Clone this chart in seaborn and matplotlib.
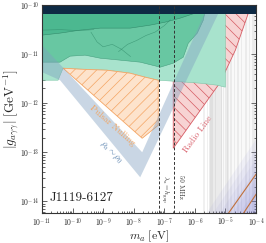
import numpy as np
import matplotlib
matplotlib.use("Agg")
import matplotlib.pyplot as plt
import seaborn as sns

# all values are log10(m_a / eV) and log10(g / GeV^-1)
green_light_m = [-11.0, -10.475, -10.311, -9.754, -8.869, -8.115, -7.623, -7.197, -6.705, -5.820,
                 -5.262, -5.0, -5.0, -11.0]
green_light_g = [-11.531, -11.531, -11.286, -11.306, -11.327, -11.388, -11.469, -11.531, -11.551, -11.592,
                 -11.633, -11.673, -10.0, -10.0]

green_mid_m = [-11.0, -10.410, -10.082, -9.590, -9.098, -8.443, -7.787, -7.131, -6.705, -6.377,
               -6.213, -5.918, -5.721, -5.623, -11.0]
green_mid_g = [-11.163, -11.163, -11.041, -11.020, -11.082, -11.122, -11.163, -11.265, -11.184, -11.061,
               -10.776, -10.571, -10.306, -10.0, -10.0]

green_dark_m = [-11.0, -10.410, -9.754, -9.098, -8.115, -7.459, -6.967, -6.475, -5.984, -5.9, -11.0]
green_dark_g = [-10.612, -10.571, -10.510, -10.469, -10.469, -10.408, -10.347, -10.265, -10.163, -10.0, -10.0]

# a few inner contour lines of the existing bounds
contour1_m = [-11.0, -10.4, -9.8, -9.3]
contour1_g = [-10.51, -10.50, -10.52, -10.50]
contour2_m = [-9.4, -9.2, -9.0, -8.7, -8.4, -8.1]
contour2_g = [-10.55, -10.75, -10.85, -10.80, -10.90, -11.05]
contour3_m = [-8.5, -8.2, -7.9, -7.6, -7.3, -7.0, -6.8]
contour3_g = [-10.95, -10.80, -10.72, -10.62, -10.55, -10.42, -10.30]

orange_m = [-10.311, -9.754, -8.869, -8.115, -7.623, -7.197, -7.197, -7.721]
orange_g = [-11.286, -11.306, -11.327, -11.388, -11.469, -11.531, -12.449, -12.714]

red_m = [-6.705, -4.148, -4.246, -4.672, -5.164, -6.705]
red_g = [-10.0, -10.0, -10.163, -10.918, -11.571, -12.918]

rho_m = [-11.0, -10.410, -7.787, -5.098, -5.557, -7.721, -11.0]
rho_g = [-11.367, -11.531, -13.510, -10.0, -10.0, -13.0, -10.816]

cast_g = -10.18

gap_line_m = -7.17
mhz50_line_m = -6.684

gray_lo = [-5.72, -5.60, -5.55, -5.50, -5.42, -5.38, -5.33, -5.22, -5.15, -5.08, -5.02, -4.96, -4.84,
           -4.76, -4.72, -4.62, -4.48, -4.40, -4.35, -4.22, -4.12, -4.05]
gray_hi = [-5.66, -5.57, -5.42, -5.40, -5.36, -5.30, -5.20, -5.12, -5.10, -5.04, -4.88, -4.92, -4.78,
           -4.74, -4.68, -4.55, -4.44, -4.38, -4.30, -4.18, -4.06, -4.02]
gray_base = [-5.55, -4.0]

# purple haze edges: g at m=-6.0 and m=-3.9
purple_left_g = [-14.6, -14.8, -15.0, -15.2, -15.4, -15.6]
purple_right_g = [-12.65, -12.85, -13.05, -13.25, -13.45, -13.65]

brown1_m = [-4.902, -3.951]
brown1_g = [-14.245, -13.408]
brown2_m = [-4.410, -3.951]
brown2_g = [-14.245, -13.816]

x_decades = [-11, -10, -9, -8, -7, -6, -5, -4]
y_decades = [-14, -13, -12, -11, -10]

sns.set_theme(style="ticks")
plt.rcParams["mathtext.fontset"] = "cm"
plt.rcParams["font.family"] = ["cmr10", "DejaVu Serif"]
plt.rcParams["axes.formatter.use_mathtext"] = True
plt.rcParams["hatch.linewidth"] = 0.5

fig = plt.figure(figsize=(2.66, 2.43), dpi=100)
ax = fig.add_axes([0.158, 0.123, 0.804, 0.856])
ax.set_xscale("log")
ax.set_yscale("log")
ymin = 10 ** -14.24
ax.set_xlim(1e-11, 1e-4)
ax.set_ylim(ymin, 1e-10)


def pw(a):
    return 10.0 ** np.array(a, dtype=float)


# gray stripes
ax.axvspan(10 ** gray_base[0], 10 ** gray_base[1], color="0.6", alpha=0.06, lw=0, zorder=1)
for lo, hi in zip(gray_lo, gray_hi):
    ax.axvspan(10 ** lo, 10 ** hi, color="0.6", alpha=0.14, lw=0, zorder=1)

# purple haze
for gl, gr in zip(purple_left_g, purple_right_g):
    ax.fill(pw([-6.0, -3.9, -3.9, -6.0]), pw([gl, gr, -16, -16]),
            color="#8080d8", alpha=0.08, lw=0, zorder=1.5)
sns.lineplot(x=pw(brown1_m), y=pw(brown1_g), estimator=None, sort=False,
             color="#c0703a", lw=0.8, ax=ax, zorder=1.6)
sns.lineplot(x=pw(brown2_m), y=pw(brown2_g), estimator=None, sort=False,
             color="#c0703a", lw=0.8, ax=ax, zorder=1.6)

# radio line
ax.fill(pw(red_m), pw(red_g), facecolor="#f7d3d3", edgecolor="#d65c64",
        hatch="\\\\\\", lw=0.6, zorder=2)

# green existing bounds
ax.fill(pw(green_light_m), pw(green_light_g), facecolor="#a8e3cd", edgecolor="#7cc6a8", lw=0.4, zorder=3)
ax.fill(pw(green_mid_m), pw(green_mid_g), facecolor="#68c7a2", edgecolor="#48a080", lw=0.4, zorder=3.2)
ax.fill(pw(green_dark_m), pw(green_dark_g), facecolor="#4cb890", edgecolor="#338c6c", lw=0.4, zorder=3.4)
for cm_, cg_ in [(contour1_m, contour1_g), (contour2_m, contour2_g), (contour3_m, contour3_g)]:
    sns.lineplot(x=pw(cm_), y=pw(cg_), estimator=None, sort=False,
                 color="#2f8a69", lw=0.4, alpha=0.7, ax=ax, zorder=3.5)

# pulsar nulling
ax.fill(pw(orange_m), pw(orange_g), facecolor="#fde3cc", edgecolor="#f4a564",
        hatch="///", lw=0.6, zorder=4)

# rho_a ~ rho_0 band
ax.fill(pw(rho_m), pw(rho_g), facecolor="#7f9fbf", alpha=0.42, lw=0, zorder=5)

# CAST
ax.fill_between([1e-11, 1e-4], 10 ** cast_g, 1e-10, color="#0e2a44", lw=0, zorder=6)

ax.axvline(10 ** gap_line_m, color="0.2", ls=(0, (3, 2)), lw=0.7, zorder=7)
ax.axvline(10 ** mhz50_line_m, color="0.2", ls=(0, (3, 2)), lw=0.7, zorder=7)

ax.text(10 ** -8.70, 10 ** -12.45, "Pulsar Nulling", color="#f2a35e", fontsize=6.5,
        rotation=-41, ha="center", va="center", rotation_mode="anchor", zorder=8)
ax.text(10 ** -8.77, 10 ** -13.0, r"$\rho_a\sim\rho_0$", color="#4d79a8", fontsize=6.5,
        rotation=-46, ha="center", va="center", rotation_mode="anchor", zorder=8)
ax.text(10 ** -5.885, 10 ** -12.63, "Radio Line", color="#d9606b", fontsize=6.5,
        rotation=54, ha="center", va="center", rotation_mode="anchor", zorder=8)
ax.text(10 ** -6.98, 10 ** -13.755, r"$\lambda_a = h_{\rm gap}$", color="0.2", fontsize=5,
        rotation=-90, ha="center", va="center", zorder=8)
ax.text(10 ** -6.46, 10 ** -13.70, "50 MHz", color="0.2", fontsize=5,
        rotation=-90, ha="center", va="center", zorder=8)
ax.text(0.037, 0.072, "J1119-6127", transform=ax.transAxes, fontsize=9.5,
        ha="left", va="center", zorder=8)

ax.set_xlabel(r"$m_a\ [\mathrm{eV}]$", fontsize=8.5, labelpad=0)
ax.set_ylabel(r"$|g_{a\gamma\gamma}|\ [\mathrm{GeV}^{-1}]$", fontsize=9.5, labelpad=-1)
ax.tick_params(which="both", direction="in", top=True, right=True, labelsize=5.5, width=0.5, pad=2)
ax.tick_params(which="major", length=3.5)
ax.tick_params(which="minor", length=1.8)

# ticks only inside the shown range
ax.xaxis.set_major_locator(matplotlib.ticker.FixedLocator(pw(x_decades)))
ax.xaxis.set_minor_locator(matplotlib.ticker.FixedLocator(
    [k * 10.0 ** d for d in x_decades[:-1] for k in range(2, 10)]))
ax.yaxis.set_major_locator(matplotlib.ticker.FixedLocator(pw(y_decades)))
ax.yaxis.set_minor_locator(matplotlib.ticker.FixedLocator(
    [k * 10.0 ** d for d in [-15] + y_decades[:-1] for k in range(2, 10) if k * 10.0 ** d > ymin]))
ax.xaxis.set_major_formatter(matplotlib.ticker.LogFormatterSciNotation())
ax.yaxis.set_major_formatter(matplotlib.ticker.LogFormatterSciNotation())
ax.xaxis.set_minor_formatter(matplotlib.ticker.NullFormatter())
ax.yaxis.set_minor_formatter(matplotlib.ticker.NullFormatter())
for s in ax.spines.values():
    s.set_linewidth(0.8)
    s.set_color("0.2")
    s.set_zorder(10)

fig.savefig("out.png", dpi=100)
